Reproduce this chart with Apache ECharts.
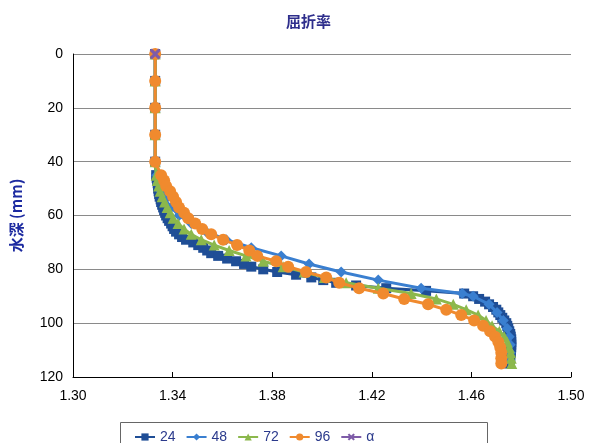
<!DOCTYPE html>
<html>
<head>
<meta charset="utf-8">
<script src="https://cdn.jsdelivr.net/npm/echarts@6/dist/echarts.min.js"></script>
<style>
html,body{margin:0;padding:0;background:#fff;}
#chart{width:591px;height:443px;}
</style>
</head>
<body>
<div id="chart"></div>
<script>
// ---- data ----
var seriesNames = ['24', '48', '72', '96', 'α'];
var xTicks = [1.30, 1.34, 1.38, 1.42, 1.46, 1.50];
var yTicks = [0, 20, 40, 60, 80, 100, 120];

var depth24 = [0,10,20,30,40,45,46,47,48,49,50,51,52,53,54,55,56,57,58,59,60,61,62,63,64,65,66,67,68,69,70,71,72,73,74,75,76,77,78,79,80,81,82,83,84,85,86,87,88,89,90,91,92,93,94,95,96,97,98,99,100,101,102,103,104,105,106,107,108,109,110,111,112,113,114,115];
var n24 = [1.333,1.333,1.333,1.333,1.333,1.3334,1.3336,1.3338,1.3340,1.3342,1.3342,1.3344,1.3346,1.3348,1.3352,1.3354,1.3358,1.3362,1.3366,1.3370,1.3374,1.3380,1.3386,1.3394,1.3400,1.3406,1.3414,1.3426,1.3438,1.3454,1.3483,1.3503,1.3523,1.3539,1.3555,1.3583,1.3619,1.3655,1.3687,1.3716,1.3764,1.3820,1.3896,1.3957,1.4005,1.4057,1.4137,1.4258,1.4418,1.4571,1.4607,1.4631,1.4655,1.4671,1.4687,1.4700,1.4708,1.4716,1.4724,1.4732,1.4740,1.4744,1.4748,1.4752,1.4756,1.4758,1.4760,1.4760,1.4760,1.4760,1.4758,1.4758,1.4756,1.4756,1.4754,1.4752];

var depth48 = [0,10,20,30,40,45,48,51,54,57,60,63,66,69,72,75,78,81,84,87,89,90,93,96,99,102,105,108,111,114];
var n48 = [1.333,1.333,1.333,1.333,1.333,1.3336,1.3342,1.3354,1.3370,1.3394,1.3426,1.3475,1.3535,1.3615,1.3716,1.3836,1.3948,1.4077,1.4226,1.4398,1.4563,1.4607,1.4671,1.4703,1.4728,1.4744,1.4752,1.4756,1.4756,1.4754];

var depth72 = [0,10,20,30,40,45,47,49,51,53,55,57,59,61,63,65,67,69,71,73,75,77,79,81,83,85,87,89,91,93,95,97,99,101,103,105,107,109,111,113,115];
var n72 = [1.333,1.333,1.333,1.333,1.333,1.3334,1.3338,1.3344,1.3350,1.3358,1.3368,1.3378,1.3390,1.3402,1.3422,1.3446,1.3475,1.3515,1.3567,1.3627,1.3695,1.3764,1.3844,1.3928,1.4009,1.4097,1.4226,1.4358,1.4459,1.4527,1.4579,1.4627,1.4659,1.4683,1.4712,1.4732,1.4744,1.4752,1.4758,1.4760,1.4762];

var depth96 = [0,10,20,30,40,45,47,49,51,53,55,57,59,61,63,65,67,69,71,73,75,77,79,81,83,85,87,89,91,93,95,97,99,101,103,105,107,109,111,113,115];
var n96 = [1.333,1.333,1.333,1.333,1.333,1.3354,1.3366,1.3374,1.3390,1.3402,1.3414,1.3426,1.3446,1.3463,1.3491,1.3519,1.3555,1.3603,1.3659,1.3708,1.3740,1.3816,1.3864,1.3936,1.4017,1.4069,1.4149,1.4246,1.4330,1.4426,1.4499,1.4559,1.4611,1.4647,1.4675,1.4695,1.4708,1.4716,1.4720,1.4720,1.4720];

var depthA = [0];
var nA = [1.333];

var colors = ['#1f4e96', '#3a7fd0', '#8cb84c', '#f08a2e', '#7e5ca8'];
var symbols = ['rect', 'diamond', 'triangle', 'circle',
  'path://M2,0 L5,3 L8,0 L10,2 L7,5 L10,8 L8,10 L5,7 L2,10 L0,8 L3,5 L0,2 Z'];
var symbolSizes = [10, 11, 11, 12, 11];

function pairs(xs, ys) { return xs.map(function (v, i) { return [v, ys[i]]; }); }
var allData = [pairs(n24, depth24), pairs(n48, depth48), pairs(n72, depth72), pairs(n96, depth96), pairs(nA, depthA)];

var chart = echarts.init(document.getElementById('chart'), null, {renderer: 'canvas'});
var FONT = '"Liberation Sans", Arial, sans-serif';

var series = seriesNames.map(function (name, i) {
  return {
    name: name,
    type: 'line',
    data: allData[i],
    symbol: symbols[i],
    symbolSize: symbolSizes[i],
    showAllSymbol: true,
    lineStyle: {color: colors[i], width: 3},
    itemStyle: {color: colors[i]},
    z: 2 + i
  };
});

chart.setOption({
  animation: false,
  backgroundColor: '#fff',
  title: {
    text: '屈折率',
    left: 281, top: 9,
    textStyle: {fontFamily: '"Noto Sans CJK JP", sans-serif', fontSize: 15, fontWeight: 'bold', color: '#2e2e8c'}
  },
  grid: {left: 73, right: 20, top: 54, bottom: 66},
  graphic: [{
    type: 'rect', left: 120, top: 422, z: 0,
    shape: {width: 367, height: 30},
    style: {fill: '#fff', stroke: '#666', lineWidth: 1}
  }],
  legend: {
    left: 129, top: 425,
    itemWidth: 20, itemHeight: 9, itemGap: 10,
    textStyle: {fontFamily: FONT, fontSize: 14, color: '#2b3a8c'},
    data: seriesNames.map(function (n, i) {
      return {name: n, itemStyle: {color: colors[i]}};
    })
  },
  xAxis: {
    type: 'value', min: 1.30, max: 1.50,
    axisLine: {show: true, onZero: false, lineStyle: {color: '#000', width: 1}},
    axisTick: {show: true, inside: true, length: 5, customValues: xTicks, lineStyle: {color: '#000'}},
    axisLabel: {customValues: xTicks, margin: 12, fontFamily: FONT, fontSize: 14, color: '#000',
      formatter: function (v) { return v.toFixed(2); }},
    splitLine: {show: false}
  },
  yAxis: {
    type: 'value', inverse: true, min: 0, max: 120, interval: 20,
    name: '水深 (mm)', nameLocation: 'middle', nameGap: 49, nameRotate: 90,
    nameTextStyle: {fontFamily: '"Noto Sans CJK JP", sans-serif', fontSize: 15, fontWeight: 'bold', color: '#1c2aa0'},
    axisLine: {show: true, onZero: false, lineStyle: {color: '#000', width: 1}},
    axisTick: {show: false},
    axisLabel: {margin: 10, fontFamily: FONT, fontSize: 14, color: '#000',
      formatter: function (v) { return yTicks.indexOf(v) >= 0 ? String(v) : ''; }},
    splitLine: {show: true, lineStyle: {color: '#8a8a8a', width: 1}}
  },
  series: series
});
</script>
</body>
</html>
